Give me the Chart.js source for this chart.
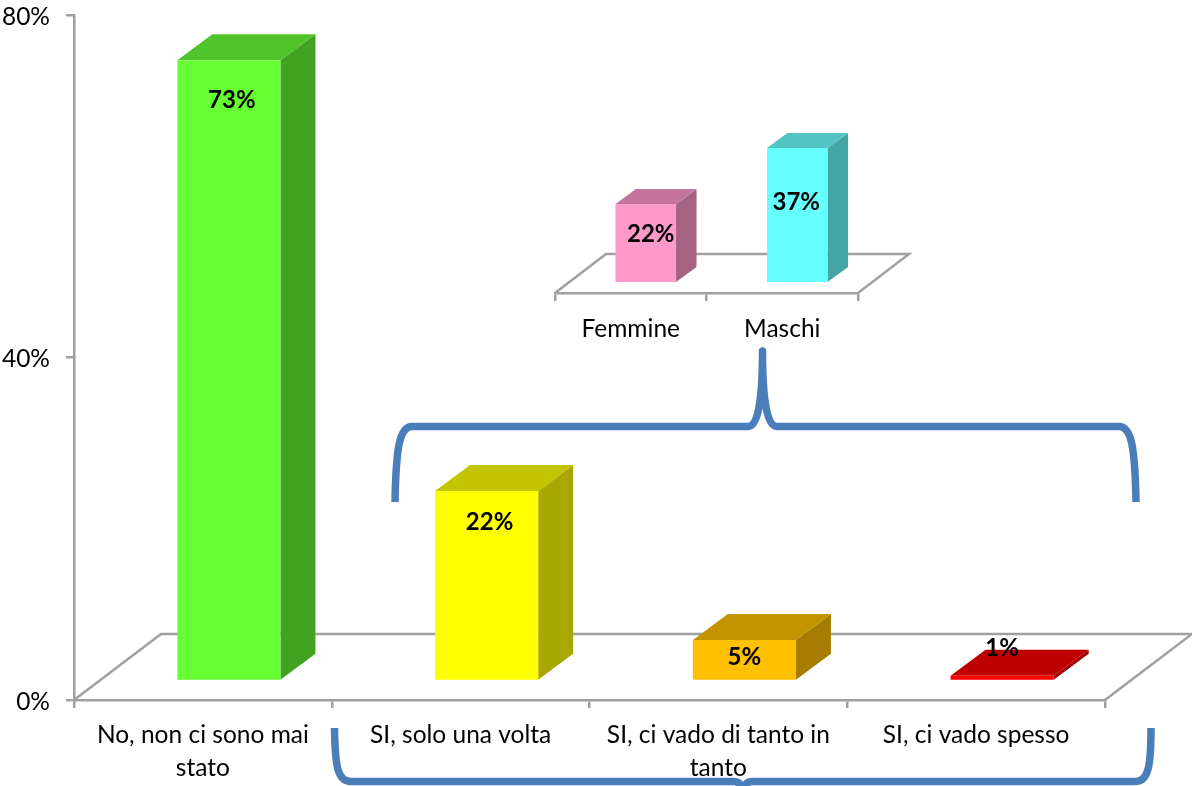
<!DOCTYPE html>
<html><head><meta charset="utf-8">
<style>html,body{margin:0;padding:0;background:#fff;overflow:hidden}canvas{position:absolute;left:0;top:0}</style>
<script src="https://cdn.jsdelivr.net/npm/chart.js@4/dist/chart.umd.min.js"></script>
</head><body>
<canvas id="main" width="1192" height="786"></canvas>
<canvas id="inset" width="1192" height="786"></canvas>
<script>
const categories = [["No, non ci sono mai","stato"],"SI, solo una volta",["SI, ci vado di tanto in","tanto"],"SI, ci vado spesso"];
const values = [72.5, 22.2, 4.8, 0.6];
const valueLabels = ["73%","22%","5%","1%"];
const yTicks = [0, 40, 80];
const insetCategories = ["Femmine","Maschi"];
const insetValues = [21.7, 37.2];
const insetLabels = ["22%","37%"];

const frontColors = ["#66ff33","#ffff00","#ffc000","#ff0000"];
const topColors = ["#50c42a","#c4c400","#c49400","#c00000"];
const sideColors = ["#42a322","#a8a800","#a67d00","#a00000"];
const insetFront = ["#ff99cc","#66ffff"];
const insetTop = ["#c4749c","#52c4c4"];
const insetSide = ["#a56283","#45a5a5"];

const FONT = "Lato, Carlito, sans-serif";
const GREY = "#a0a0a0";
const BLUE = "#4a7ebb";

const depth3d = {
  id: "depth3d",
  beforeDatasetsDraw(chart, args, o) {
    const ctx = chart.ctx, x = chart.scales.x, y = chart.scales.y, y0 = y.getPixelForValue(0);
    ctx.save();
    ctx.strokeStyle = GREY; ctx.lineWidth = 2.5;
    ctx.beginPath();
    ctx.moveTo(x.left, y0);
    ctx.lineTo(x.left + o.floor[0], y0 + o.floor[1]);
    ctx.lineTo(x.right + o.floor[0], y0 + o.floor[1]);
    ctx.lineTo(x.right, y0);
    ctx.stroke();
    ctx.translate(o.lift[0], o.lift[1]);
    const [dx, dy] = o.depth;
    chart.getDatasetMeta(0).data.forEach((b, i) => {
      const r = b.x + b.width / 2, l = b.x - b.width / 2;
      ctx.fillStyle = o.side[i];
      ctx.beginPath(); ctx.moveTo(r, b.y); ctx.lineTo(r + dx, b.y + dy); ctx.lineTo(r + dx, b.base + dy); ctx.lineTo(r, b.base); ctx.closePath(); ctx.fill();
      ctx.fillStyle = o.top[i];
      ctx.beginPath(); ctx.moveTo(l, b.y); ctx.lineTo(l + dx, b.y + dy); ctx.lineTo(r + dx, b.y + dy); ctx.lineTo(r, b.y); ctx.closePath(); ctx.fill();
    });
  },
  afterDatasetsDraw(chart, args, o) {
    const ctx = chart.ctx;
    chart.getDatasetMeta(0).data.forEach((b, i) => {
      ctx.font = "bold 24px " + FONT;
      ctx.fillStyle = "#000"; ctx.textAlign = "center"; ctx.textBaseline = "middle";
      ctx.fillText(o.texts[i], b.x + o.textOffset[i][0], b.y + o.textOffset[i][1]);
    });
    ctx.restore();
  }
};

const braces = {
  id: "braces",
  afterDraw(chart) {
    const ctx = chart.ctx;
    ctx.save();
    ctx.strokeStyle = BLUE; ctx.lineWidth = 7.5; ctx.lineCap = "butt"; ctx.lineJoin = "round";
    ctx.beginPath();
    ctx.moveTo(395, 502);
    ctx.bezierCurveTo(396, 450, 399, 426.5, 412, 426.5);
    ctx.lineTo(748, 426.5);
    ctx.bezierCurveTo(758, 426.5, 762.5, 400, 762.5, 351);
    ctx.bezierCurveTo(762.5, 400, 767, 426.5, 777, 426.5);
    ctx.lineTo(1119, 426.5);
    ctx.bezierCurveTo(1132, 426.5, 1135, 450, 1136, 502);
    ctx.stroke();
    ctx.beginPath();
    ctx.moveTo(334.5, 728);
    ctx.bezierCurveTo(335, 768, 338, 781.5, 351, 781.5);
    ctx.lineTo(734, 781.5);
    ctx.bezierCurveTo(739, 781.5, 742, 785, 743, 792);
    ctx.bezierCurveTo(744, 785, 747, 781.5, 752, 781.5);
    ctx.lineTo(1135, 781.5);
    ctx.bezierCurveTo(1148, 781.5, 1151, 768, 1151, 728);
    ctx.stroke();
    ctx.restore();
  }
};

const tickFont = { family: FONT, size: 24.5, lineHeight: 1.33 };

new Chart(document.getElementById("main"), {
  type: "bar",
  data: { labels: categories, datasets: [{ data: values, backgroundColor: frontColors, barPercentage: 0.4, categoryPercentage: 1 }] },
  plugins: [depth3d, braces],
  options: {
    responsive: false, animation: false, devicePixelRatio: 1,
    layout: { padding: { top: 15, right: 87, left: 0, bottom: 0 } },
    plugins: {
      legend: { display: false }, tooltip: { enabled: false },
      depth3d: { floor: [87, -66], lift: [26, -19], depth: [35, -26], top: topColors, side: sideColors, texts: valueLabels,
        textOffset: [[3, 40], [3, 31], [0, 17], [0, -28]] }
    },
    scales: {
      x: {
        afterFit(s) { s.height = 86; s.paddingLeft = 0; s.paddingRight = 0; },
        grid: { drawOnChartArea: false, color: GREY, lineWidth: 2.5, tickLength: 8, offset: true },
        border: { color: GREY, width: 2.5 },
        ticks: { font: tickFont, color: "#000", padding: 11, maxRotation: 0, autoSkip: false }
      },
      y: {
        min: 0, max: 80,
        afterFit(s) { s.width = 74; s.paddingTop = 0; s.paddingBottom = 0; },
        afterBuildTicks(s) { s.ticks = yTicks.map(v => ({ value: v })); },
        grid: { drawOnChartArea: false, color: GREY, lineWidth: 2.5, tickLength: 8 },
        border: { color: GREY, width: 2.5 },
        ticks: { font: tickFont, color: "#000", padding: 16, labelOffset: 2, callback: v => v + "%" }
      }
    }
  }
});

new Chart(document.getElementById("inset"), {
  type: "bar",
  data: { labels: insetCategories, datasets: [{ data: insetValues, backgroundColor: insetFront, barPercentage: 0.4, categoryPercentage: 1 }] },
  plugins: [depth3d],
  options: {
    responsive: false, animation: false, devicePixelRatio: 1,
    layout: { padding: { top: 149, left: 555, right: 334, bottom: 0 } },
    plugins: {
      legend: { display: false }, tooltip: { enabled: false },
      depth3d: { floor: [51, -39], lift: [15, -11], depth: [20.5, -15], top: insetTop, side: insetSide, texts: insetLabels,
        textOffset: [[5, 30], [-1, 54]] }
    },
    scales: {
      x: {
        afterFit(s) { s.height = 493; },
        grid: { drawOnChartArea: false, color: GREY, lineWidth: 2.5, tickLength: 8, offset: true },
        border: { color: GREY, width: 2.5 },
        ticks: { font: tickFont, color: "#000", padding: 12, maxRotation: 0, autoSkip: false }
      },
      y: { display: false, min: 0, max: 40 }
    }
  }
});
</script>
</body></html>
